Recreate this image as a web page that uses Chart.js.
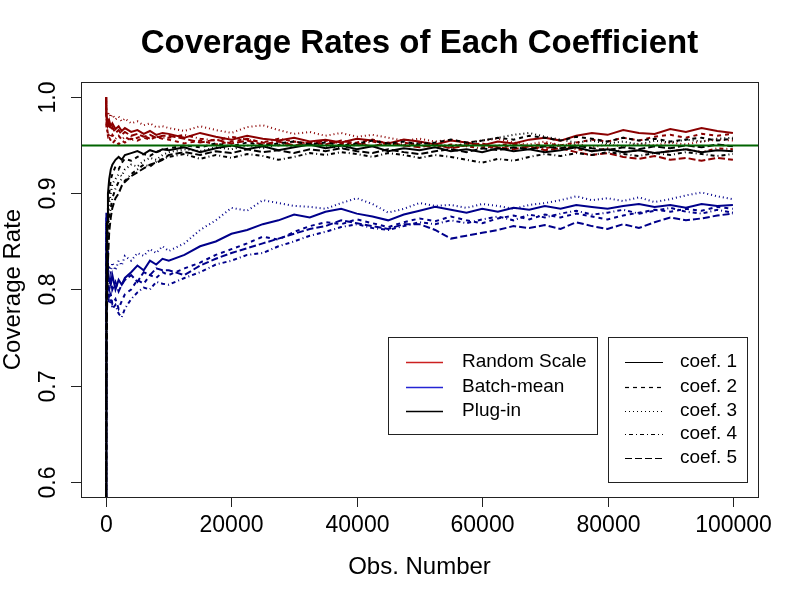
<!DOCTYPE html>
<html>
<head>
<meta charset="utf-8">
<script src="https://cdn.jsdelivr.net/npm/chart.js@4/dist/chart.umd.min.js"></script>
<style>
  body { margin: 0; background: #fff; }
  canvas { display: block; }
</style>
</head>
<body>
<canvas id="coverageChart" width="800" height="600"></canvas>
<script>
// observation numbers (x) shared by every series
const obsNumber = [1, 50, 150, 300, 500, 750, 1000, 1500, 2000, 2500, 3000, 4000, 5000, 6000, 7000, 8000, 9000,
  10000, 12500, 15000, 17500, 20000, 22500, 25000, 27500, 30000, 32500, 35000, 37500,
  40000, 42500, 45000, 47500, 50000, 52500, 55000, 57500, 60000, 62500, 65000, 67500,
  70000, 72500, 75000, 77500, 80000, 82500, 85000, 87500, 90000, 92500, 95000, 97500, 100000];

// Random Scale, coef. 1..5
const randomScale1 = [1.0, .983, .978, .972, .976, .970, .973, .967, .970, .965, .968, .964, .966, .962, .965, .961, .963,
  .962, .958, .963, .959, .956, .960, .957, .955, .958, .954, .956, .953, .957, .955, .952, .956, .954, .951, .955, .953, .950, .954, .952, .956, .958, .955, .960, .963, .961, .966, .963, .962, .967, .964, .968, .965, .963];
const randomScale2 = [1.0, .975, .968, .962, .958, .955, .952, .956, .951, .955, .953, .957, .955, .958, .956, .959, .957,
  .956, .952, .955, .951, .954, .957, .953, .950, .954, .952, .955, .951, .953, .956, .952, .950, .953, .951, .948, .952, .950, .947, .951, .949, .952, .950, .953, .956, .954, .958, .955, .959, .961, .958, .962, .960, .962];
const randomScale3 = [1.0, .988, .985, .981, .984, .979, .982, .977, .980, .975, .978, .973, .975, .971, .973, .969, .970,
  .968, .965, .970, .966, .963, .969, .971, .966, .962, .964, .960, .963, .959, .961, .958, .955, .957, .954, .956, .953, .955, .957, .953, .951, .954, .950, .952, .948, .951, .949, .952, .950, .953, .951, .954, .956, .955];
const randomScale4 = [1.0, .970, .965, .960, .963, .958, .961, .957, .960, .956, .959, .955, .958, .960, .957, .959, .958,
  .958, .961, .957, .955, .959, .956, .953, .957, .954, .951, .955, .952, .950, .954, .951, .953, .950, .948, .951, .949, .947, .950, .952, .949, .947, .950, .946, .944, .947, .943, .945, .942, .944, .946, .943, .947, .946];
const randomScale5 = [1.0, .980, .974, .969, .972, .966, .969, .963, .966, .961, .964, .960, .962, .959, .961, .958, .960,
  .960, .957, .953, .956, .952, .955, .951, .954, .950, .953, .951, .955, .952, .949, .953, .950, .948, .951, .947, .950, .952, .948, .946, .949, .945, .947, .943, .940, .942, .938, .936, .939, .935, .937, .934, .937, .935];

// Batch-mean, coef. 1..5
const batchMean1 = [.55, .88, .84, .82, .81, .805, .815, .80, .81, .805, .812, .818, .825, .82, .83, .826, .832,
  .83, .836, .845, .85, .858, .862, .868, .872, .878, .875, .881, .884, .879, .876, .872, .878, .882, .886, .883, .88, .884, .881, .885, .883, .887, .884, .888, .886, .884, .887, .889, .886, .888, .885, .889, .887, .888];
const batchMean2 = [.55, .86, .82, .80, .79, .795, .785, .79, .78, .788, .795, .80, .81, .806, .815, .812, .818,
  .815, .822, .828, .836, .842, .848, .855, .852, .86, .866, .87, .868, .873, .869, .865, .87, .874, .871, .876, .872, .869, .874, .877, .873, .878, .875, .879, .876, .873, .877, .880, .883, .881, .884, .882, .886, .884];
const batchMean3 = [.55, .87, .835, .815, .825, .818, .828, .82, .83, .825, .835, .83, .838, .835, .842, .838, .845,
  .84, .848, .862, .872, .885, .882, .893, .89, .887, .886, .884, .89, .895, .889, .88, .884, .89, .887, .888, .885, .889, .887, .884, .888, .89, .893, .897, .893, .895, .892, .896, .891, .894, .898, .901, .897, .894];
const batchMean4 = [.55, .85, .81, .795, .785, .79, .78, .784, .775, .771, .78, .79, .797, .802, .80, .808, .806,
  .805, .812, .818, .826, .83, .836, .838, .845, .85, .856, .86, .865, .868, .864, .862, .866, .87, .868, .872, .869, .873, .876, .872, .878, .875, .879, .882, .878, .88, .883, .879, .882, .885, .881, .879, .883, .88];
const batchMean5 = [.55, .875, .83, .81, .80, .81, .80, .808, .798, .805, .81, .815, .808, .818, .815, .822, .82,
  .82, .815, .825, .832, .838, .843, .848, .853, .858, .863, .866, .872, .869, .866, .863, .868, .868, .862, .853, .856, .859, .862, .866, .864, .867, .863, .87, .866, .863, .868, .864, .87, .875, .872, .874, .877, .879];

// Plug-in, coef. 1..5
const plugIn1 = [.55, .80, .87, .90, .915, .925, .93, .935, .938, .935, .94, .942, .944, .941, .945, .943, .946,
  .945, .948, .943, .947, .950, .946, .949, .945, .948, .951, .947, .950, .946, .949, .944, .947, .945, .948, .944, .946, .943, .947, .944, .946, .943, .945, .948, .944, .946, .943, .945, .942, .944, .946, .943, .945, .944];
const plugIn2 = [.55, .78, .85, .885, .90, .915, .92, .928, .925, .932, .936, .934, .938, .941, .939, .943, .945,
  .947, .950, .948, .952, .949, .953, .950, .952, .954, .951, .953, .950, .952, .955, .952, .954, .951, .953, .956, .953, .955, .958, .956, .960, .958, .955, .959, .957, .954, .958, .955, .957, .954, .956, .958, .955, .957];
const plugIn3 = [.55, .75, .83, .87, .89, .90, .91, .915, .92, .918, .925, .93, .928, .934, .937, .935, .94,
  .943, .946, .944, .948, .946, .950, .947, .951, .949, .952, .950, .947, .951, .949, .952, .950, .953, .951, .949, .952, .955, .958, .961, .963, .959, .956, .953, .955, .952, .954, .951, .955, .953, .956, .954, .957, .958];
const plugIn4 = [.55, .72, .80, .85, .875, .885, .895, .905, .912, .915, .913, .92, .925, .93, .928, .933, .936,
  .938, .941, .936, .940, .937, .941, .939, .935, .938, .942, .940, .943, .941, .938, .942, .940, .937, .940, .938, .935, .932, .936, .934, .938, .941, .939, .942, .940, .943, .941, .939, .942, .940, .943, .941, .939, .941];
const plugIn5 = [.55, .70, .78, .83, .86, .875, .885, .895, .90, .908, .912, .918, .922, .926, .93, .932, .935,
  .940, .943, .940, .944, .942, .946, .943, .945, .942, .946, .944, .947, .944, .942, .946, .943, .941, .944, .946, .943, .947, .945, .948, .946, .949, .947, .950, .947, .945, .948, .946, .949, .947, .950, .948, .951, .949];

const targetRate = 0.95;
const xTicks = [0, 20000, 40000, 60000, 80000, 100000];
const yTicks = [0.6, 0.7, 0.8, 0.9, 1.0];
const methodNames = ['Random Scale', 'Batch-mean', 'Plug-in'];
const coefNames = ['coef. 1', 'coef. 2', 'coef. 3', 'coef. 4', 'coef. 5'];

const methodColors = ['#8b0000', '#00008b', '#000000'];
const legendColors = ['#cc2020', '#2424d4', '#000000'];
const dashes = [[], [4, 4], [1, 3], [1, 3, 4, 3], [7, 3]];
const FONT = '"Liberation Sans", Arial, Helvetica, sans-serif';

const methods = [
  [randomScale1, randomScale2, randomScale3, randomScale4, randomScale5],
  [batchMean1, batchMean2, batchMean3, batchMean4, batchMean5],
  [plugIn1, plugIn2, plugIn3, plugIn4, plugIn5]
];

const datasets = [];
methods.forEach((series, m) => {
  series.forEach((vals, c) => {
    datasets.push({
      label: methodNames[m] + ' ' + coefNames[c],
      data: obsNumber.map((x, i) => ({ x: x, y: vals[i] })),
      borderColor: methodColors[m],
      borderWidth: 2,
      borderDash: dashes[c],
      pointRadius: 0,
      tension: 0,
      order: 3 - m
    });
  });
});

// R-style frame, axes, title, abline and the two legends
const rStyle = {
  id: 'rStyle',
  afterDatasetsDraw(chart) {
    const ctx = chart.ctx;
    const a = chart.chartArea;
    const xs = chart.scales.x, ys = chart.scales.y;
    ctx.save();

    // target line
    const yt = ys.getPixelForValue(targetRate);
    ctx.strokeStyle = '#006400';
    ctx.lineWidth = 2;
    ctx.beginPath();
    ctx.moveTo(a.left, yt);
    ctx.lineTo(a.right, yt);
    ctx.stroke();

    // box
    ctx.strokeStyle = '#222';
    ctx.lineWidth = 1;
    ctx.strokeRect(Math.round(a.left) + 0.5, Math.round(a.top) + 0.5,
      Math.round(a.right - a.left), Math.round(a.bottom - a.top));

    ctx.fillStyle = '#000';
    ctx.font = '23px ' + FONT;

    // x axis
    ctx.textAlign = 'center';
    ctx.textBaseline = 'middle';
    xTicks.forEach(v => {
      const px = Math.round(xs.getPixelForValue(v)) + 0.5;
      ctx.beginPath();
      ctx.moveTo(px, a.bottom);
      ctx.lineTo(px, a.bottom + 10);
      ctx.stroke();
      ctx.fillText(String(v), px, a.bottom + 29);
    });

    // y axis (labels parallel to axis)
    yTicks.forEach(v => {
      const py = Math.round(ys.getPixelForValue(v)) + 0.5;
      ctx.beginPath();
      ctx.moveTo(a.left, py);
      ctx.lineTo(a.left - 10, py);
      ctx.stroke();
      ctx.save();
      ctx.translate(a.left - 32, py);
      ctx.rotate(-Math.PI / 2);
      ctx.fillText(v.toFixed(1), 0, 0);
      ctx.restore();
    });

    // axis titles
    const cx = (a.left + a.right) / 2;
    ctx.font = '24px ' + FONT;
    ctx.fillText('Obs. Number', cx, 567);
    ctx.save();
    ctx.translate(13, (a.top + a.bottom) / 2);
    ctx.rotate(-Math.PI / 2);
    ctx.fillText('Coverage Rate', 0, 0);
    ctx.restore();

    // title
    ctx.font = 'bold 33px ' + FONT;
    ctx.fillText('Coverage Rates of Each Coefficient', cx, 44);

    // legends
    ctx.font = '19px ' + FONT;
    ctx.textAlign = 'left';
    const rowY = [362, 387, 411, 434, 458];

    ctx.fillStyle = '#fff';
    ctx.fillRect(388, 337, 209, 97);
    ctx.strokeStyle = '#222';
    ctx.lineWidth = 1;
    ctx.strokeRect(388.5, 337.5, 209, 97);
    methodNames.forEach((name, i) => {
      ctx.strokeStyle = legendColors[i];
      ctx.lineWidth = 1.5;
      ctx.beginPath();
      ctx.moveTo(406, rowY[i] + 0.5);
      ctx.lineTo(443, rowY[i] + 0.5);
      ctx.stroke();
      ctx.fillStyle = '#000';
      ctx.fillText(name, 462, rowY[i]);
    });

    ctx.fillStyle = '#fff';
    ctx.fillRect(608, 337, 139, 145);
    ctx.strokeStyle = '#222';
    ctx.lineWidth = 1;
    ctx.strokeRect(608.5, 337.5, 139, 145);
    coefNames.forEach((name, i) => {
      ctx.strokeStyle = '#000';
      ctx.lineWidth = 1.2;
      ctx.setLineDash(dashes[i]);
      ctx.beginPath();
      ctx.moveTo(625, rowY[i] + 0.5);
      ctx.lineTo(663, rowY[i] + 0.5);
      ctx.stroke();
      ctx.setLineDash([]);
      ctx.fillStyle = '#000';
      ctx.fillText(name, 680, rowY[i]);
    });

    ctx.restore();
  }
};

new Chart(document.getElementById('coverageChart').getContext('2d'), {
  type: 'line',
  data: { datasets: datasets },
  options: {
    responsive: false,
    animation: false,
    devicePixelRatio: 1,
    layout: { padding: { left: 81, top: 82, right: 42, bottom: 103 } },
    plugins: { legend: { display: false }, tooltip: { enabled: false } },
    scales: {
      x: { type: 'linear', display: false, min: -4000, max: 104000 },
      y: { type: 'linear', display: false, min: 0.584, max: 1.016 }
    }
  },
  plugins: [rStyle]
});
</script>
</body>
</html>
